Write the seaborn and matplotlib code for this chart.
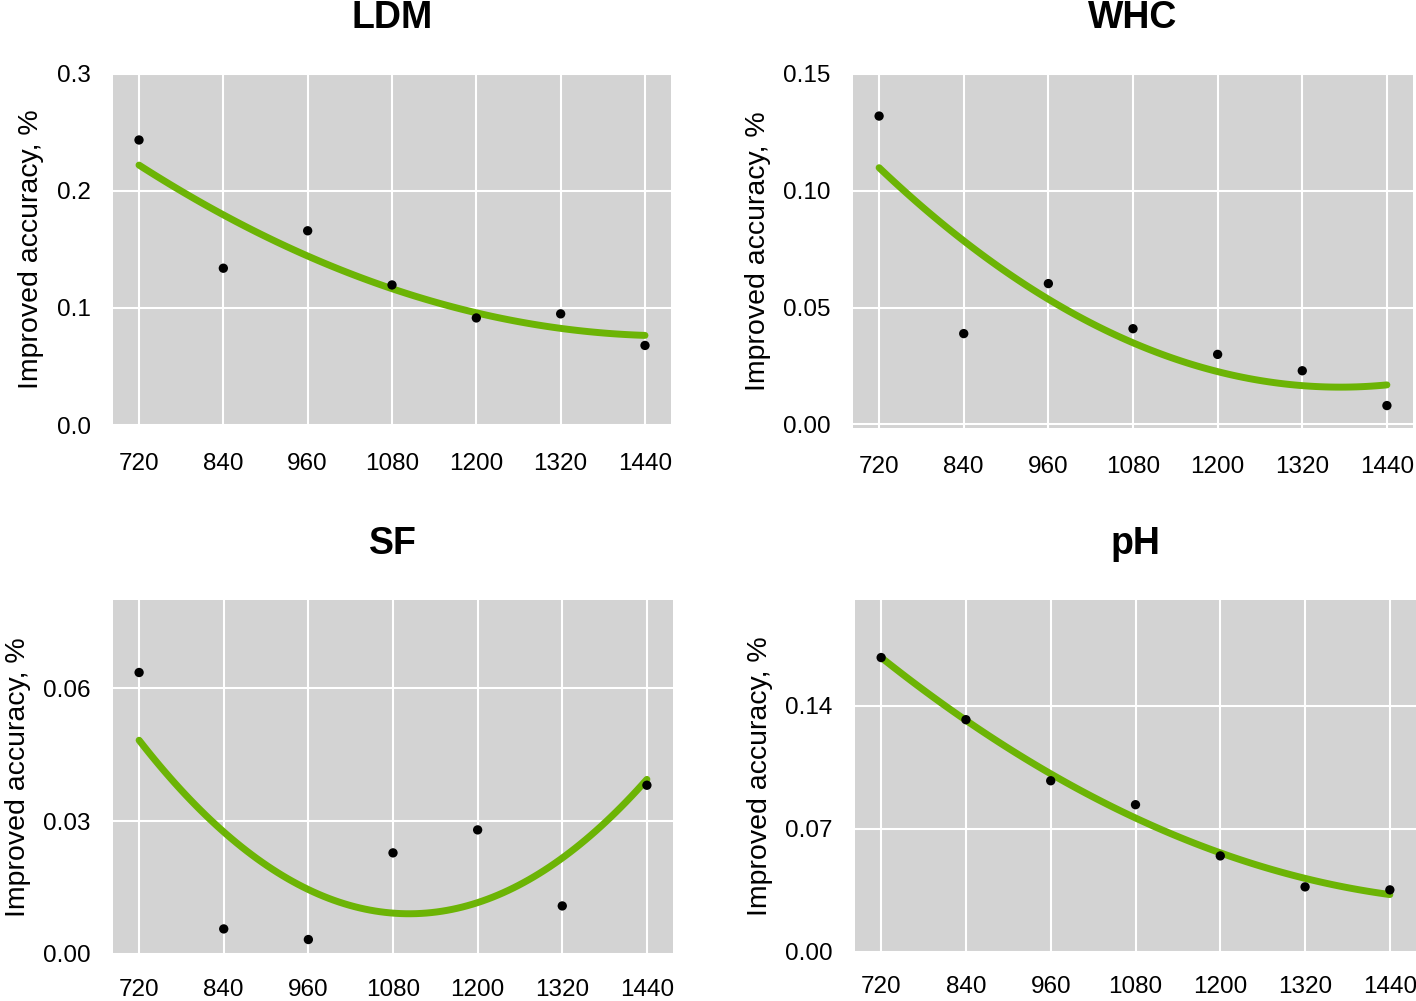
import numpy as np
import pandas as pd
import matplotlib
matplotlib.use("Agg")
import matplotlib.pyplot as plt
import seaborn as sns

x_vals = [720, 840, 960, 1080, 1200, 1320, 1440]
ldm = [0.2436, 0.134, 0.166, 0.1197, 0.0915, 0.095, 0.068]
whc = [0.132, 0.0389, 0.0603, 0.041, 0.030, 0.023, 0.0081]
sf = [0.0636, 0.0056, 0.0032, 0.0228, 0.028, 0.0108, 0.0381]
ph = [0.1673, 0.132, 0.0973, 0.0837, 0.0546, 0.037, 0.0353]

titles = ["LDM", "WHC", "SF", "pH"]
series = [ldm, whc, sf, ph]
yticks = [[0.0, 0.1, 0.2, 0.3], [0.00, 0.05, 0.10, 0.15],
          [0.00, 0.03, 0.06], [0.00, 0.07, 0.14]]
yticklabels = [["0.0", "0.1", "0.2", "0.3"], ["0.00", "0.05", "0.10", "0.15"],
               ["0.00", "0.03", "0.06"], ["0.00", "0.07", "0.14"]]
ylims = [(0, 0.3), (-0.0015, 0.15), (-0.0003, 0.08), (0, 0.2)]

sns.set_theme(style="darkgrid")
plt.rcParams['font.family'] = ['Liberation Sans', 'DejaVu Sans']
plt.rcParams['text.color'] = 'black'
plt.rcParams['axes.labelcolor'] = 'black'
plt.rcParams['xtick.color'] = 'black'
plt.rcParams['ytick.color'] = 'black'

W, H = 1416, 1001
fig = plt.figure(figsize=(W / 100, H / 100), dpi=100)

# panel boxes in pixels: left, top, right, bottom
boxes = [(113, 74, 671, 425), (853, 74, 1413, 428),
         (113, 600, 673, 955), (855, 600, 1416, 952)]

green = "#6CB405"
for i, (title, yv) in enumerate(zip(titles, series)):
    l, t, r, b = boxes[i]
    ax = fig.add_axes([l / W, 1 - b / H, (r - l) / W, (b - t) / H])
    ax.set_facecolor("#D3D3D3")
    df = pd.DataFrame({"x": x_vals, "y": yv})
    sns.regplot(data=df, x="x", y="y", order=2, ci=None, ax=ax,
                scatter=False, line_kws=dict(color=green, lw=5, zorder=2))
    sns.scatterplot(data=df, x="x", y="y", ax=ax, color="black", s=45,
                    edgecolor="none", zorder=3)
    ax.set_xlim(683, 1477)
    ax.set_ylim(*ylims[i])
    ax.set_xticks(x_vals)
    ax.set_xticklabels([str(v) for v in x_vals])
    ax.set_yticks(yticks[i])
    ax.set_yticklabels(yticklabels[i])
    ax.grid(True, color="white", lw=1.5)
    ax.set_axisbelow(True)
    for s in ax.spines.values():
        s.set_visible(False)
    xpad = 20 if i < 2 else 17
    ax.tick_params(axis="x", length=0, pad=xpad, labelsize=17.5)
    ax.tick_params(axis="y", length=0, pad=16, labelsize=17.5)
    ax.set_xlabel("")
    ax.set_ylabel("Improved accuracy, %", fontsize=20.5, labelpad=9)
    ax.set_title(title, fontsize=27, fontweight="bold", pad=33)

fig.savefig("out.png", dpi=100)
